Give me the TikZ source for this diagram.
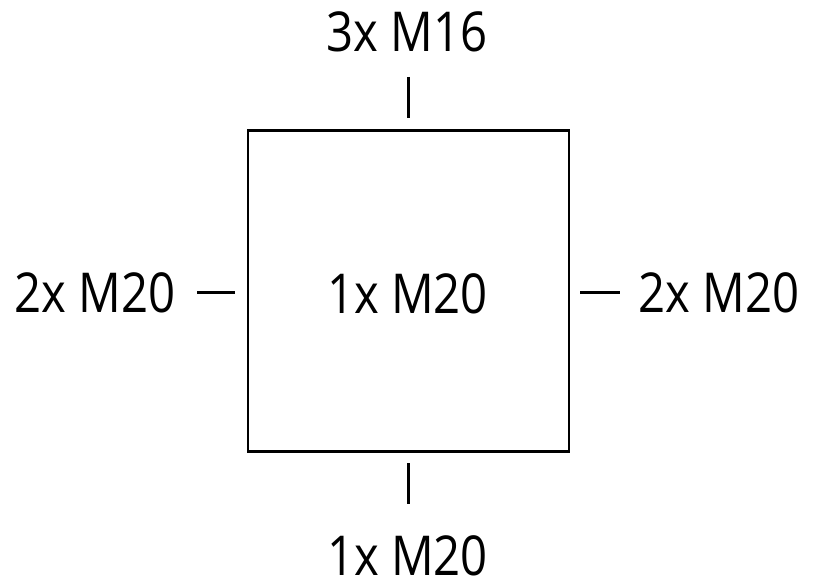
\documentclass[tikz,border=0pt]{standalone}
\usepackage{fontspec}
\setmainfont[FakeStretch=0.86]{Open Sans}
\usetikzlibrary{positioning}
\begin{document}
\begin{tikzpicture}[x=1pt,y=-1pt,
        lbl/.style={font=\fontsize{55}{60}\selectfont, inner sep=0pt, text depth=0pt, anchor=base},
        tick/.style={line width=3pt}]
    \useasboundingbox (0,0) rectangle (815,586);
    \node[draw, line width=2.2pt, minimum size=321pt, inner sep=0pt] (box) at (408.5,291) {};
    \node[lbl] (mid) at (407.5,313) {1x M20};
    \node[lbl] (top) at (407,52) {3x M16};
    \node[lbl] (bot) at (407.5,575) {1x M20};
    \node[lbl] (left) at (95,312) {2x M20};
    \node[lbl] (right) at (719,312) {2x M20};
    \coordinate (t_a) at (408,77);
    \coordinate (t_b) at (408,118);
    \coordinate (b_a) at (408,463);
    \coordinate (b_b) at (408,504);
    \coordinate (l_a) at (197,292);
    \coordinate (l_b) at (235,292);
    \coordinate (r_a) at (580,292);
    \coordinate (r_b) at (620,292);
    \draw[tick] (t_a) -- (t_b);
    \draw[tick] (b_a) -- (b_b);
    \draw[tick] (l_a) -- (l_b);
    \draw[tick] (r_a) -- (r_b);
\end{tikzpicture}
\end{document}
